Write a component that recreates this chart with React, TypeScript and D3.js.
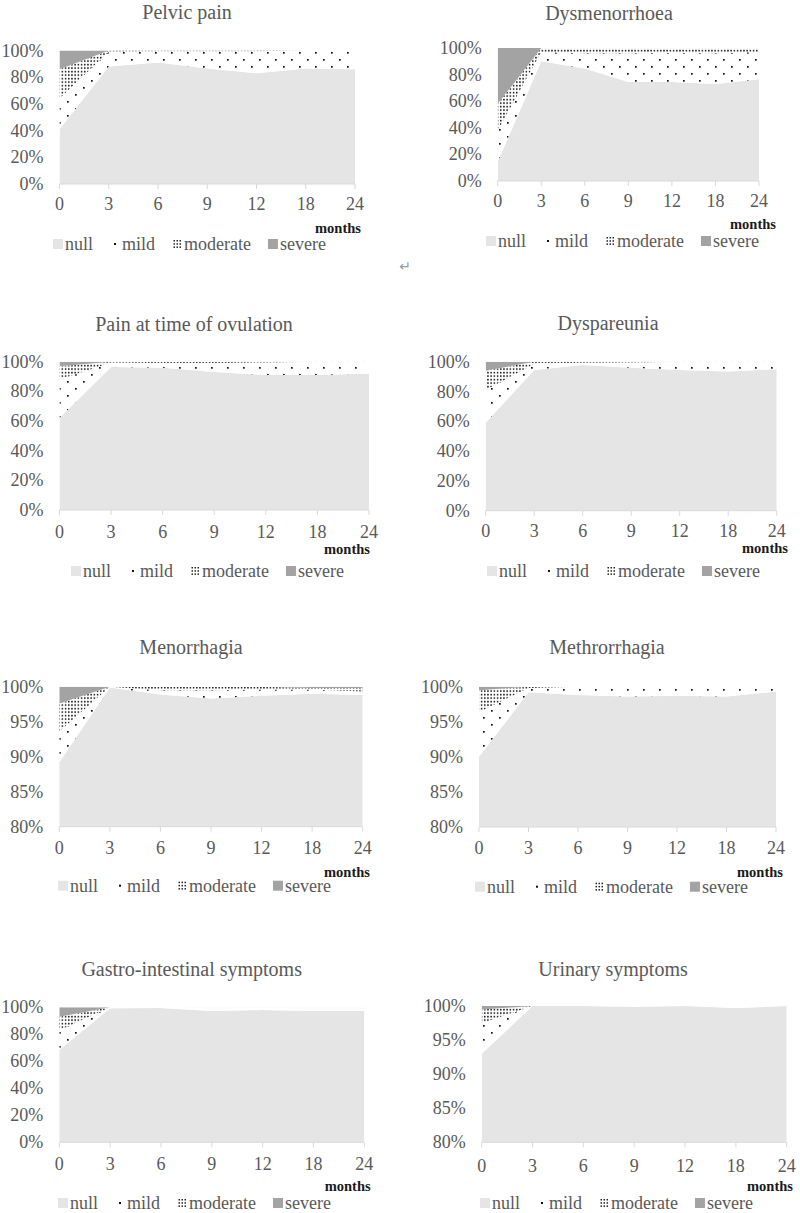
import React from "react";
import * as d3 from "d3";

const CATEGORIES = ["0", "3", "6", "9", "12", "18", "24"];
const SEVERITY_KEYS = ["null", "mild", "moderate", "severe"];
const LEGEND_LABELS = ["null", "mild", "moderate", "severe"];
const TICKS_FULL = [0, 20, 40, 60, 80, 100];
const TICKS_ZOOM = [80, 85, 90, 95, 100];

// Pelvic pain
const PELVIC_NULL = [41, 88, 91, 86.5, 83, 86.5, 86];
const PELVIC_MILD = [23, 11, 8.5, 13, 16.5, 13.5, 14];
const PELVIC_MODERATE = [22, 1, 0.5, 0.5, 0.5, 0, 0];
const PELVIC_SEVERE = [14, 0, 0, 0, 0, 0, 0];

// Dysmenorrhoea
const DYSMEN_NULL = [14.5, 90, 84.5, 74.5, 74.5, 73, 76.5];
const DYSMEN_MILD = [23.5, 7, 11.5, 21.5, 22, 23, 20.5];
const DYSMEN_MODERATE = [20, 3, 4, 4, 3.5, 4, 3];
const DYSMEN_SEVERE = [42, 0, 0, 0, 0, 0, 0];

// Pain at time of ovulation
const OVUL_NULL = [62, 96.5, 96, 93, 91, 91, 92];
const OVUL_MILD = [26, 3, 3, 6, 8.5, 9, 8];
const OVUL_MODERATE = [9, 0.5, 1, 1, 0.5, 0, 0];
const OVUL_SEVERE = [3, 0, 0, 0, 0, 0, 0];

// Dyspareunia
const DYSPAR_NULL = [59, 94.4, 97.8, 96, 94.5, 93.5, 95];
const DYSPAR_MILD = [22, 4, 1.5, 3.5, 5.5, 6.5, 5];
const DYSPAR_MODERATE = [13, 1.6, 0.7, 0.5, 0, 0, 0];
const DYSPAR_SEVERE = [6, 0, 0, 0, 0, 0, 0];

// Menorrhagia
const MENOR_NULL = [89.2, 99.9, 98.9, 98.3, 98.7, 99, 98.8];
const MENOR_MILD = [4.4, 0.1, 0.6, 1.2, 0.9, 0.6, 0.5];
const MENOR_MODERATE = [4, 0, 0.5, 0.5, 0.4, 0.2, 0.5];
const MENOR_SEVERE = [2.4, 0, 0, 0, 0, 0.2, 0.2];

// Methrorrhagia
const METHR_NULL = [90, 99.2, 98.8, 98.6, 98.7, 98.6, 99.3];
const METHR_MILD = [6.4, 0.6, 1.2, 1.4, 1.3, 1.4, 0.7];
const METHR_MODERATE = [3.1, 0.2, 0, 0, 0, 0, 0];
const METHR_SEVERE = [0.5, 0, 0, 0, 0, 0, 0];

// Gastro-intestinal symptoms
const GASTRO_NULL = [68.4, 99.3, 99.5, 97.3, 98, 97.3, 97.3];
const GASTRO_MILD = [14.6, 0.7, 0.5, 2, 1.5, 2, 2];
const GASTRO_MODERATE = [10, 0, 0, 0.7, 0.5, 0.7, 0.7];
const GASTRO_SEVERE = [7, 0, 0, 0, 0, 0, 0];

// Urinary symptoms
const URIN_NULL = [93, 100, 100, 99.9, 100, 99.7, 100];
const URIN_MILD = [4.5, 0, 0, 0.1, 0, 0.3, 0];
const URIN_MODERATE = [2, 0, 0, 0, 0, 0, 0];
const URIN_SEVERE = [0.5, 0, 0, 0, 0, 0, 0];

const TITLES = [
  "Pelvic pain",
  "Dysmenorrhoea",
  "Pain at time of ovulation",
  "Dyspareunia",
  "Menorrhagia",
  "Methrorrhagia",
  "Gastro-intestinal symptoms",
  "Urinary symptoms",
];

const SERIES = [
  [PELVIC_NULL, PELVIC_MILD, PELVIC_MODERATE, PELVIC_SEVERE],
  [DYSMEN_NULL, DYSMEN_MILD, DYSMEN_MODERATE, DYSMEN_SEVERE],
  [OVUL_NULL, OVUL_MILD, OVUL_MODERATE, OVUL_SEVERE],
  [DYSPAR_NULL, DYSPAR_MILD, DYSPAR_MODERATE, DYSPAR_SEVERE],
  [MENOR_NULL, MENOR_MILD, MENOR_MODERATE, MENOR_SEVERE],
  [METHR_NULL, METHR_MILD, METHR_MODERATE, METHR_SEVERE],
  [GASTRO_NULL, GASTRO_MILD, GASTRO_MODERATE, GASTRO_SEVERE],
  [URIN_NULL, URIN_MILD, URIN_MODERATE, URIN_SEVERE],
];

const Y_MIN = [0, 0, 0, 0, 80, 80, 0, 80];

// layout (page pixels)
const LAYOUT = [
  { x0: 59.5, x1: 355, yTop: 50.5, yBot: 184, tx: 187, ty: 12, xl: 204, mx: 338, my: 228, ly: 244, lx: 53 },
  { x0: 497.7, x1: 759, yTop: 48, yBot: 181, tx: 609, ty: 13, xl: 201, mx: 753, my: 224, ly: 241, lx: 486 },
  { x0: 59.5, x1: 369, yTop: 361.7, yBot: 510, tx: 194, ty: 324, xl: 532, mx: 347, my: 549, ly: 571, lx: 71 },
  { x0: 485.7, x1: 776.7, yTop: 361.7, yBot: 510.7, tx: 608, ty: 323, xl: 530.7, mx: 765, my: 547.7, ly: 571, lx: 487 },
  { x0: 59.3, x1: 362.7, yTop: 686.7, yBot: 826.7, tx: 191, ty: 647, xl: 847.7, mx: 347, my: 871.7, ly: 885.7, lx: 58 },
  { x0: 479, x1: 776, yTop: 686.7, yBot: 827, tx: 607, ty: 647, xl: 847.7, mx: 760, my: 871.7, ly: 886.7, lx: 475 },
  { x0: 59.3, x1: 364.3, yTop: 1007.3, yBot: 1142.3, tx: 191.7, ty: 969, xl: 1164, mx: 347.7, my: 1186, ly: 1203, lx: 58 },
  { x0: 481.7, x1: 786.7, yTop: 1006, yBot: 1142.3, tx: 613, ty: 969, xl: 1165.7, mx: 770, my: 1186, ly: 1203, lx: 480 },
];

const FILLS = ["#e5e5e5", "url(#mildPat)", "url(#modPat)", "#a3a3a3"];
const FONT = "'Liberation Serif', 'Times New Roman', serif";
const TEXT = "#595959";
const LABEL_SIZE = 18;

let _ctx: CanvasRenderingContext2D | null = null;
function textWidth(s: string, size: number) {
  if (!_ctx) _ctx = document.createElement("canvas").getContext("2d");
  if (!_ctx) return s.length * size * 0.45;
  _ctx.font = `${size}px 'Liberation Serif'`;
  return _ctx.measureText(s).width;
}

function LegendMarker({ i, x, y }: { i: number; x: number; y: number }) {
  if (i === 1) {
    return <rect x={x + 4} y={y - 1} width={2} height={2} fill="#111" />;
  }
  if (i === 2) {
    return (
      <g>
        <rect x={x} y={y - 5} width={10} height={10} fill="#fff" />
        {[0, 1, 2].map((c) =>
          [0, 1, 2].map((r) => (
            <rect key={`${c}-${r}`} x={x + 1.5 + c * 3} y={y - 4 + r * 3.2} width={1.5} height={1.5} fill="#222" />
          ))
        )}
      </g>
    );
  }
  return <rect x={x} y={y - 5} width={10} height={10} fill={FILLS[i]} />;
}

function Panel({ idx }: { idx: number }) {
  const L = LAYOUT[idx];
  const yMin = Y_MIN[idx];
  const ticks = yMin === 0 ? TICKS_FULL : TICKS_ZOOM;
  const x = d3.scalePoint<string>().domain(CATEGORIES).range([L.x0, L.x1]);
  const y = d3.scaleLinear().domain([yMin, 100]).range([L.yBot, L.yTop]);
  const rows = CATEGORIES.map((c, i) => {
    const r: any = { cat: c };
    SEVERITY_KEYS.forEach((k, j) => (r[k] = SERIES[idx][j][i]));
    return r;
  });
  const stacked = d3.stack<any>().keys(SEVERITY_KEYS)(rows);
  const area = d3
    .area<any>()
    .x((d) => x(d.data.cat) as number)
    .y0((d) => y(d[0]))
    .y1((d) => y(Math.min(d[1], 100)));
  const clipId = `clip${idx}`;

  const legendItems: { x: number; tx: number; label: string; i: number }[] = [];
  let lx = L.lx;
  LEGEND_LABELS.forEach((lab, i) => {
    legendItems.push({ x: lx, tx: lx + 12, label: lab, i });
    lx = lx + 12 + textWidth(lab, LABEL_SIZE) + 17;
  });

  return (
    <g>
      <clipPath id={clipId}>
        <rect x={L.x0} y={L.yTop} width={L.x1 - L.x0} height={L.yBot - L.yTop} />
      </clipPath>
      <text x={L.tx} y={L.ty} textAnchor="middle" dominantBaseline="central" fontSize={20} fill={TEXT} fontFamily={FONT}>
        {TITLES[idx]}
      </text>
      {ticks.map((t) => (
        <text key={t} x={L.x0 - 16} y={y(t)} textAnchor="end" dominantBaseline="central" fontSize={LABEL_SIZE} fill={TEXT} fontFamily={FONT}>
          {t + "%"}
        </text>
      ))}
      <g clipPath={`url(#${clipId})`}>
        {stacked.map((s, i) => (
          <path key={s.key} d={area(s as any) || ""} fill={FILLS[i]} stroke="none" />
        ))}
      </g>
      <line x1={L.x0} x2={L.x1} y1={L.yBot} y2={L.yBot} stroke="#d9d9d9" strokeWidth={1} />
      {CATEGORIES.map((c) => (
        <g key={c}>
          <line x1={x(c)} x2={x(c)} y1={L.yBot} y2={L.yBot + 5} stroke="#d9d9d9" strokeWidth={1} />
          <text x={x(c)} y={L.xl} textAnchor="middle" dominantBaseline="central" fontSize={LABEL_SIZE} fill={TEXT} fontFamily={FONT}>
            {c}
          </text>
        </g>
      ))}
      <text x={L.mx} y={L.my} textAnchor="middle" dominantBaseline="central" fontSize={14.5} fontWeight="bold" fill="#1a1a1a" fontFamily={FONT}>
        months
      </text>
      {legendItems.map((it) => (
        <g key={it.label}>
          <LegendMarker i={it.i} x={it.x} y={L.ly} />
          <text x={it.tx} y={L.ly} dominantBaseline="central" fontSize={LABEL_SIZE} fill={TEXT} fontFamily={FONT}>
            {it.label}
          </text>
        </g>
      ))}
    </g>
  );
}

export default function App() {
  return (
    <svg width={800} height={1213} style={{ position: "absolute", left: 0, top: 0, background: "#fff" }}>
      <defs>
        <pattern id="mildPat" width={16} height={14} patternUnits="userSpaceOnUse">
          <rect width={16} height={14} fill="#fff" />
          <rect x={3} y={3} width={1.7} height={1.7} fill="#111" />
          <rect x={11} y={10} width={1.7} height={1.7} fill="#111" />
        </pattern>
        <pattern id="modPat" width={3.2} height={3.5} patternUnits="userSpaceOnUse">
          <rect width={3.2} height={3.5} fill="#fff" />
          <rect x={0.8} y={0.8} width={1.5} height={1.6} fill="#111" />
        </pattern>
      </defs>
      <rect width={800} height={1213} fill="#fff" />
      {TITLES.map((_, i) => (
        <Panel key={i} idx={i} />
      ))}
      <text x={405} y={266} textAnchor="middle" dominantBaseline="central" fontSize={14} fill="#9a9a9a" fontFamily="'DejaVu Sans', sans-serif">
        ↵
      </text>
    </svg>
  );
}
